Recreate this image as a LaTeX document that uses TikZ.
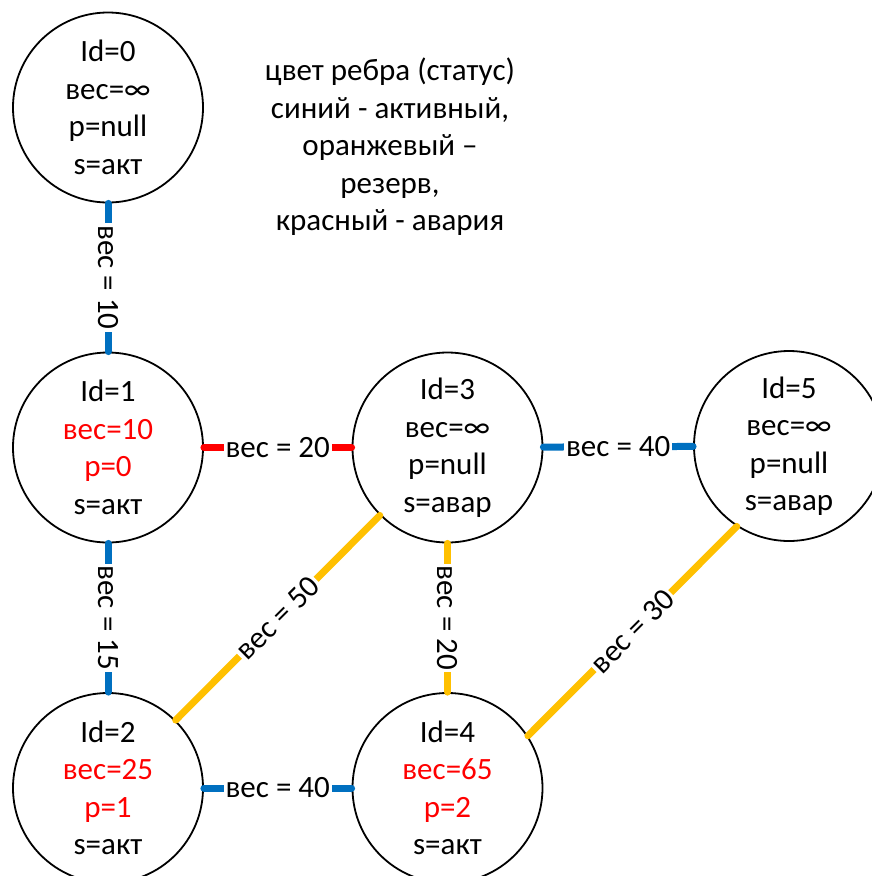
\documentclass[tikz,border=0pt]{standalone}
\usepackage{fontspec}
\setmainfont{Carlito}
\definecolor{edgeblue}{RGB}{0,112,192}
\definecolor{edgeorange}{RGB}{255,192,0}
\definecolor{edgered}{RGB}{255,0,0}
\begin{document}
\begin{tikzpicture}[x=1pt,y=-1pt,
  bigtext/.style={font=\fontsize{31}{37.5}\selectfont},
  vertex/.style={circle,draw,line width=1.8pt,minimum size=190pt,inner sep=0pt,
    align=center,bigtext},
  link/.style={line width=7pt,line cap=round},
  active/.style={link,draw=edgeblue},
  spare/.style={link,draw=edgeorange},
  fault/.style={link,draw=edgered},
  wlabel/.style={fill=white,inner sep=2pt,text=black,bigtext}
]
\useasboundingbox (0,0) rectangle (872,876);
\clip (0,0) rectangle (872,876);

% vertices
\node[vertex] (n0) at (108,107.5) {Id=0\\вес=∞\\p=null\\s=акт};
\node[vertex] (n1) at (108,447.5) {Id=1\\\textcolor{red}{вес=10}\\\textcolor{red}{p=0}\\s=акт};
\node[vertex] (n2) at (108,788) {Id=2\\\textcolor{red}{вес=25}\\\textcolor{red}{p=1}\\s=акт};
\node[vertex] (n3) at (447.5,447.5) {Id=3\\вес=∞\\p=null\\s=авар};
\node[vertex] (n4) at (447.5,788) {Id=4\\\textcolor{red}{вес=65}\\\textcolor{red}{p=2}\\s=акт};
\node[vertex] (n5) at (789,446) {Id=5\\вес=∞\\p=null\\s=авар};

% legend
\node[bigtext,align=center] (legend) at (390,147)
  {цвет ребра (статус)\\синий - активный,\\оранжевый –\\резерв,\\красный - авария};

% edges
\draw[active] (n0) -- node[wlabel,rotate=-90] {вес = 10} (n1);
\draw[fault]  (n1) -- node[wlabel] {вес = 20} (n3);
\draw[active] (n3) -- node[wlabel] {вес = 40} (n5);
\draw[active] (n1) -- node[wlabel,rotate=-90] {вес = 15} (n2);
\draw[spare]  (n2) -- node[wlabel,rotate=45] {вес = 50} (n3);
\draw[spare]  (n3) -- node[wlabel,rotate=-90] {вес = 20} (n4);
\draw[active] (n2) -- node[wlabel] {вес = 40} (n4);
\draw[spare]  (n4.33) -- node[wlabel,rotate=45] {вес = 30} (n5.237);
\end{tikzpicture}
\end{document}
